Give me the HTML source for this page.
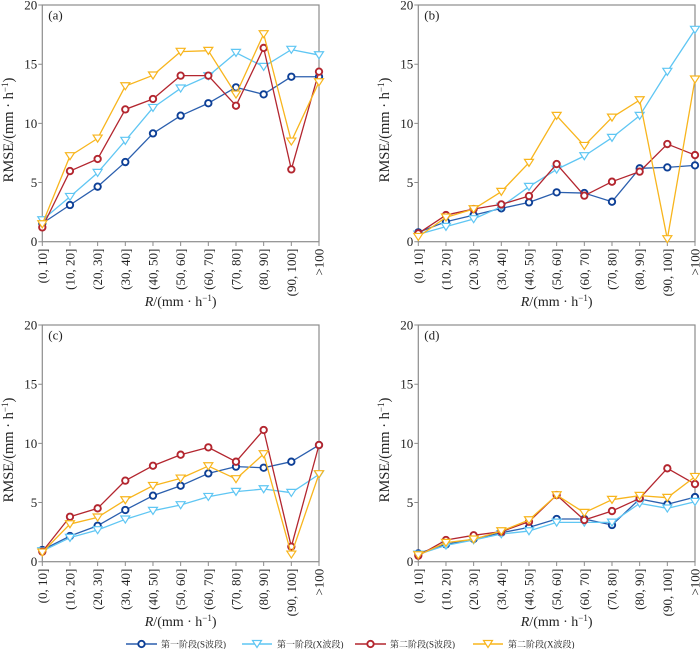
<!DOCTYPE html>
<html>
<head>
<meta charset="utf-8">
<style>
  html,body{margin:0;padding:0;background:#fff;}
  svg{display:block;}
  text{font-family:"Liberation Serif","Noto Serif CJK SC",serif;fill:#222;}
  .yt{font-size:13px;text-anchor:end;}
  .xt{font-size:13px;text-anchor:end;}
  .ax{stroke:#8c8c8c;stroke-width:1.2;fill:none;}
  .tk{stroke:#8c8c8c;stroke-width:1;}
</style>
</head>
<body>
<svg id="svg" width="700" height="649" viewBox="0 0 700 649" xmlns="http://www.w3.org/2000/svg">
<rect width="700" height="649" fill="#fff"/>

<!-- Panel template repeated -->
<g id="pa" transform="translate(42.3,5)">
  <rect class="ax" x="0" y="0" width="276.7" height="236.7"/>
  <path class="tk" d="M-4,0H0M-4,59.2H0M-4,118.35H0M-4,177.5H0M-4,236.7H0M0,236.7V241M27.67,236.7V241M55.34,236.7V241M83.01,236.7V241M110.68,236.7V241M138.35,236.7V241M166.02,236.7V241M193.69,236.7V241M221.36,236.7V241M249.03,236.7V241M276.7,236.7V241"/>
  <text class="yt" x="-5" y="4.5">20</text>
  <text class="yt" x="-5" y="63.7">15</text>
  <text class="yt" x="-5" y="122.85">10</text>
  <text class="yt" x="-5" y="182">5</text>
  <text class="yt" x="-5" y="241.2">0</text>
  <text class="xt" transform="translate(4.5,243.7) rotate(-90)">(0, 10]</text>
  <text class="xt" transform="translate(32.17,243.7) rotate(-90)">(10, 20]</text>
  <text class="xt" transform="translate(59.84,243.7) rotate(-90)">(20, 30]</text>
  <text class="xt" transform="translate(87.51,243.7) rotate(-90)">(30, 40]</text>
  <text class="xt" transform="translate(115.18,243.7) rotate(-90)">(40, 50]</text>
  <text class="xt" transform="translate(142.85,243.7) rotate(-90)">(50, 60]</text>
  <text class="xt" transform="translate(170.52,243.7) rotate(-90)">(60, 70]</text>
  <text class="xt" transform="translate(198.19,243.7) rotate(-90)">(70, 80]</text>
  <text class="xt" transform="translate(225.86,243.7) rotate(-90)">(80, 90]</text>
  <text class="xt" transform="translate(253.53,243.7) rotate(-90)">(90, 100]</text>
  <text class="xt" transform="translate(281.2,243.7) rotate(-90)">&gt;100</text>
  <text x="6" y="14.5" font-size="13">(a)</text>
  <text transform="translate(-29.5,125) rotate(-90)" text-anchor="middle" font-size="14.5">RMSE/(mm · h<tspan dy="-5" font-size="9">−1</tspan><tspan dy="5">)</tspan></text>
  <text x="138.35" y="301" text-anchor="middle" font-size="14"><tspan font-style="italic">R</tspan>/(mm · h<tspan dy="-5" font-size="9">−1</tspan><tspan dy="5">)</tspan></text>
  <g class="series"></g>
</g>

<g id="pb" transform="translate(418.3,5)">
  <rect class="ax" x="0" y="0" width="276.7" height="236.7"/>
  <path class="tk" d="M-4,0H0M-4,59.2H0M-4,118.35H0M-4,177.5H0M-4,236.7H0M0,236.7V241M27.67,236.7V241M55.34,236.7V241M83.01,236.7V241M110.68,236.7V241M138.35,236.7V241M166.02,236.7V241M193.69,236.7V241M221.36,236.7V241M249.03,236.7V241M276.7,236.7V241"/>
  <text class="yt" x="-5" y="4.5">20</text>
  <text class="yt" x="-5" y="63.7">15</text>
  <text class="yt" x="-5" y="122.85">10</text>
  <text class="yt" x="-5" y="182">5</text>
  <text class="yt" x="-5" y="241.2">0</text>
  <text class="xt" transform="translate(4.5,243.7) rotate(-90)">(0, 10]</text>
  <text class="xt" transform="translate(32.17,243.7) rotate(-90)">(10, 20]</text>
  <text class="xt" transform="translate(59.84,243.7) rotate(-90)">(20, 30]</text>
  <text class="xt" transform="translate(87.51,243.7) rotate(-90)">(30, 40]</text>
  <text class="xt" transform="translate(115.18,243.7) rotate(-90)">(40, 50]</text>
  <text class="xt" transform="translate(142.85,243.7) rotate(-90)">(50, 60]</text>
  <text class="xt" transform="translate(170.52,243.7) rotate(-90)">(60, 70]</text>
  <text class="xt" transform="translate(198.19,243.7) rotate(-90)">(70, 80]</text>
  <text class="xt" transform="translate(225.86,243.7) rotate(-90)">(80, 90]</text>
  <text class="xt" transform="translate(253.53,243.7) rotate(-90)">(90, 100]</text>
  <text class="xt" transform="translate(281.2,243.7) rotate(-90)">&gt;100</text>
  <text x="6" y="14.5" font-size="13">(b)</text>
  <text transform="translate(-29.5,125) rotate(-90)" text-anchor="middle" font-size="14.5">RMSE/(mm · h<tspan dy="-5" font-size="9">−1</tspan><tspan dy="5">)</tspan></text>
  <text x="138.35" y="301" text-anchor="middle" font-size="14"><tspan font-style="italic">R</tspan>/(mm · h<tspan dy="-5" font-size="9">−1</tspan><tspan dy="5">)</tspan></text>
  <g class="series"></g>
</g>

<g id="pc" transform="translate(42.3,325)">
  <rect class="ax" x="0" y="0" width="276.7" height="236.7"/>
  <path class="tk" d="M-4,0H0M-4,59.2H0M-4,118.35H0M-4,177.5H0M-4,236.7H0M0,236.7V241M27.67,236.7V241M55.34,236.7V241M83.01,236.7V241M110.68,236.7V241M138.35,236.7V241M166.02,236.7V241M193.69,236.7V241M221.36,236.7V241M249.03,236.7V241M276.7,236.7V241"/>
  <text class="yt" x="-5" y="4.5">20</text>
  <text class="yt" x="-5" y="63.7">15</text>
  <text class="yt" x="-5" y="122.85">10</text>
  <text class="yt" x="-5" y="182">5</text>
  <text class="yt" x="-5" y="241.2">0</text>
  <text class="xt" transform="translate(4.5,243.7) rotate(-90)">(0, 10]</text>
  <text class="xt" transform="translate(32.17,243.7) rotate(-90)">(10, 20]</text>
  <text class="xt" transform="translate(59.84,243.7) rotate(-90)">(20, 30]</text>
  <text class="xt" transform="translate(87.51,243.7) rotate(-90)">(30, 40]</text>
  <text class="xt" transform="translate(115.18,243.7) rotate(-90)">(40, 50]</text>
  <text class="xt" transform="translate(142.85,243.7) rotate(-90)">(50, 60]</text>
  <text class="xt" transform="translate(170.52,243.7) rotate(-90)">(60, 70]</text>
  <text class="xt" transform="translate(198.19,243.7) rotate(-90)">(70, 80]</text>
  <text class="xt" transform="translate(225.86,243.7) rotate(-90)">(80, 90]</text>
  <text class="xt" transform="translate(253.53,243.7) rotate(-90)">(90, 100]</text>
  <text class="xt" transform="translate(281.2,243.7) rotate(-90)">&gt;100</text>
  <text x="6" y="14.5" font-size="13">(c)</text>
  <text transform="translate(-29.5,125) rotate(-90)" text-anchor="middle" font-size="14.5">RMSE/(mm · h<tspan dy="-5" font-size="9">−1</tspan><tspan dy="5">)</tspan></text>
  <text x="138.35" y="301" text-anchor="middle" font-size="14"><tspan font-style="italic">R</tspan>/(mm · h<tspan dy="-5" font-size="9">−1</tspan><tspan dy="5">)</tspan></text>
  <g class="series"></g>
</g>

<g id="pd" transform="translate(418.3,325)">
  <rect class="ax" x="0" y="0" width="276.7" height="236.7"/>
  <path class="tk" d="M-4,0H0M-4,59.2H0M-4,118.35H0M-4,177.5H0M-4,236.7H0M0,236.7V241M27.67,236.7V241M55.34,236.7V241M83.01,236.7V241M110.68,236.7V241M138.35,236.7V241M166.02,236.7V241M193.69,236.7V241M221.36,236.7V241M249.03,236.7V241M276.7,236.7V241"/>
  <text class="yt" x="-5" y="4.5">20</text>
  <text class="yt" x="-5" y="63.7">15</text>
  <text class="yt" x="-5" y="122.85">10</text>
  <text class="yt" x="-5" y="182">5</text>
  <text class="yt" x="-5" y="241.2">0</text>
  <text class="xt" transform="translate(4.5,243.7) rotate(-90)">(0, 10]</text>
  <text class="xt" transform="translate(32.17,243.7) rotate(-90)">(10, 20]</text>
  <text class="xt" transform="translate(59.84,243.7) rotate(-90)">(20, 30]</text>
  <text class="xt" transform="translate(87.51,243.7) rotate(-90)">(30, 40]</text>
  <text class="xt" transform="translate(115.18,243.7) rotate(-90)">(40, 50]</text>
  <text class="xt" transform="translate(142.85,243.7) rotate(-90)">(50, 60]</text>
  <text class="xt" transform="translate(170.52,243.7) rotate(-90)">(60, 70]</text>
  <text class="xt" transform="translate(198.19,243.7) rotate(-90)">(70, 80]</text>
  <text class="xt" transform="translate(225.86,243.7) rotate(-90)">(80, 90]</text>
  <text class="xt" transform="translate(253.53,243.7) rotate(-90)">(90, 100]</text>
  <text class="xt" transform="translate(281.2,243.7) rotate(-90)">&gt;100</text>
  <text x="6" y="14.5" font-size="13">(d)</text>
  <text transform="translate(-29.5,125) rotate(-90)" text-anchor="middle" font-size="14.5">RMSE/(mm · h<tspan dy="-5" font-size="9">−1</tspan><tspan dy="5">)</tspan></text>
  <text x="138.35" y="301" text-anchor="middle" font-size="14"><tspan font-style="italic">R</tspan>/(mm · h<tspan dy="-5" font-size="9">−1</tspan><tspan dy="5">)</tspan></text>
  <g class="series"></g>
</g>

<!-- Legend -->
<g id="legend" font-size="9">
  <line x1="126" y1="644" x2="157" y2="644" stroke="#2b5fae" stroke-width="1.4"/>
  <circle cx="141.5" cy="644" r="3.2" fill="#fff" stroke="#0d3f96" stroke-width="1.9"/>
  <text x="161" y="647.5" font-size="9">第一阶段(S波段)</text>

  <line x1="242" y1="644" x2="272" y2="644" stroke="#5fc6f3" stroke-width="1.4"/>
  <path d="M252.5,640.5 L261.5,640.5 L257,647.5 Z" fill="#fff" stroke="#5fc6f3" stroke-width="1.2"/>
  <text x="277" y="647.5" font-size="9">第一阶段(X波段)</text>

  <line x1="355" y1="644" x2="386" y2="644" stroke="#b3262f" stroke-width="1.4"/>
  <circle cx="370.5" cy="644" r="3.2" fill="#fff" stroke="#b3262f" stroke-width="1.9"/>
  <text x="390" y="647.5" font-size="9">第二阶段(S波段)</text>

  <line x1="473" y1="644" x2="503" y2="644" stroke="#f8b51d" stroke-width="1.4"/>
  <path d="M483.5,640.5 L492.5,640.5 L488,647.5 Z" fill="#fff" stroke="#f8b51d" stroke-width="1.2"/>
  <text x="508" y="647.5" font-size="9">第二阶段(X波段)</text>
</g>
</svg>

<script>
(function(){
  var NS="http://www.w3.org/2000/svg";
  var H=236.7, K=11.835, DX=27.67;
  var data={
    pa:[
      [1.55,3.1,4.65,6.73,9.15,10.65,11.7,13.04,12.45,13.94,13.94],
      [1.83,3.8,5.83,8.54,11.32,12.96,14.0,15.97,14.79,16.23,15.77],
      [1.21,5.97,6.99,11.18,12.06,14.03,14.03,11.49,16.37,6.11,14.37],
      [1.49,7.24,8.73,13.15,14.06,16.06,16.14,12.45,17.55,8.48,13.49]
    ],
    pb:[
      [0.79,1.69,2.25,2.82,3.32,4.17,4.11,3.38,6.2,6.28,6.45],
      [0.62,1.27,1.92,2.96,4.65,6.11,7.24,8.79,10.65,14.37,17.92],
      [0.7,2.25,2.76,3.15,3.86,6.56,3.89,5.07,5.92,8.25,7.32],
      [0.42,2.06,2.76,4.23,6.68,10.65,8.11,10.5,11.97,0.23,13.72]
    ],
    pc:[
      [0.99,2.17,3.04,4.37,5.58,6.42,7.46,8.03,7.94,8.45,9.86],
      [0.9,2.03,2.68,3.58,4.31,4.79,5.49,5.92,6.14,5.83,7.38],
      [0.85,3.8,4.51,6.85,8.11,9.04,9.66,8.45,11.13,1.27,9.86],
      [0.79,3.18,3.75,5.21,6.42,7.04,8.08,6.99,9.1,0.62,7.41]
    ],
    pd:[
      [0.7,1.46,1.92,2.45,2.9,3.61,3.61,3.1,5.3,4.85,5.46],
      [0.62,1.38,1.83,2.34,2.59,3.32,3.32,3.32,4.93,4.51,5.07],
      [0.51,1.83,2.23,2.54,3.38,5.63,3.52,4.28,5.35,7.89,6.56],
      [0.56,1.61,1.89,2.59,3.52,5.63,4.14,5.24,5.58,5.41,7.18]
    ]
  };
  var styles=[
    {line:"#2b5fae",mk:"#0d3f96",type:"c"},
    {line:"#5fc6f3",mk:"#5fc6f3",type:"t"},
    {line:"#b3262f",mk:"#b3262f",type:"c"},
    {line:"#f8b51d",mk:"#f8b51d",type:"t"}
  ];
  function el(n,a){var e=document.createElementNS(NS,n);for(var k in a)e.setAttribute(k,a[k]);return e;}
  for(var id in data){
    var g=document.querySelector("#"+id+" .series");
    data[id].forEach(function(vals,si){
      var st=styles[si];
      var pts=vals.map(function(v,i){return [(i*DX).toFixed(2),(H-v*K).toFixed(2)];});
      g.appendChild(el("polyline",{points:pts.map(function(p){return p.join(",");}).join(" "),fill:"none",stroke:st.line,"stroke-width":"1.3","stroke-linejoin":"round"}));
      pts.forEach(function(p){
        var x=+p[0],y=+p[1];
        if(st.type==="c"){
          g.appendChild(el("circle",{cx:x,cy:y,r:"3.2",fill:"#fff",stroke:st.mk,"stroke-width":"1.9"}));
        }else{
          g.appendChild(el("path",{d:"M"+(x-4.5)+","+(y-3.3)+" L"+(x+4.5)+","+(y-3.3)+" L"+x+","+(y+3.7)+" Z",fill:"#fff",stroke:st.mk,"stroke-width":"1.2","stroke-linejoin":"miter"}));
        }
      });
    });
  }
})();
</script>
</body>
</html>
